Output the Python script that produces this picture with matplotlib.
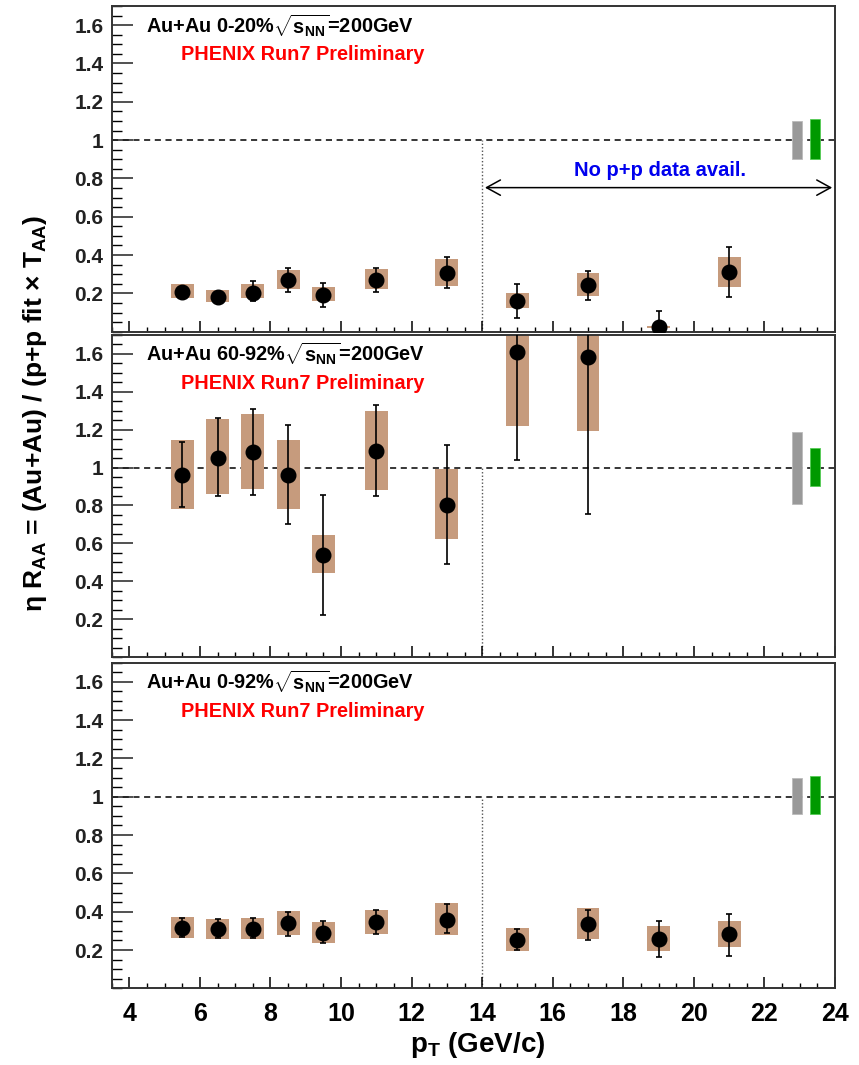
import matplotlib
matplotlib.use("Agg")
import matplotlib.pyplot as plt
from matplotlib.patches import Rectangle, FancyArrowPatch
from matplotlib.ticker import MultipleLocator, FixedLocator, FuncFormatter
import numpy as np

plt.rcParams['font.family'] = ['Liberation Sans', 'DejaVu Sans']
plt.rcParams['font.weight'] = 'bold'
plt.rcParams['mathtext.fontset'] = 'custom'
plt.rcParams['mathtext.rm'] = 'Liberation Sans:bold'
plt.rcParams['mathtext.bf'] = 'Liberation Sans:bold'
plt.rcParams['mathtext.it'] = 'Liberation Sans:bold'
plt.rcParams['mathtext.default'] = 'bf'

# ---------------- data ----------------
pt = [5.5, 6.5, 7.5, 8.5, 9.5, 11, 13, 15, 17, 19, 21]

# 0-20%
raa_c0 = [0.205, 0.179, 0.203, 0.270, 0.193, 0.270, 0.305, 0.158, 0.244, 0.025, 0.310]
stat_lo_c0 = [0.190, 0.160, 0.158, 0.205, 0.130, 0.205, 0.228, 0.074, 0.165, -0.05, 0.179]
stat_hi_c0 = [0.220, 0.196, 0.263, 0.333, 0.256, 0.333, 0.388, 0.249, 0.319, 0.109, 0.444]
sys_lo_c0 = [0.174, 0.153, 0.174, 0.223, 0.161, 0.223, 0.236, 0.126, 0.188, 0.020, 0.231]
sys_hi_c0 = [0.249, 0.218, 0.249, 0.322, 0.231, 0.327, 0.378, 0.200, 0.305, 0.030, 0.388]

# 60-92%
raa_c1 = [0.961, 1.053, 1.082, 0.961, 0.541, 1.090, 0.800, 1.608, 1.582]
stat_lo_c1 = [0.793, 0.850, 0.855, 0.704, 0.222, 0.850, 0.491, 1.041, 0.754]
stat_hi_c1 = [1.133, 1.260, 1.310, 1.225, 0.855, 1.333, 1.119, 2.100, 2.100]
sys_lo_c1 = [0.780, 0.858, 0.887, 0.780, 0.445, 0.880, 0.624, 1.222, 1.195]
sys_hi_c1 = [1.144, 1.257, 1.284, 1.144, 0.644, 1.298, 0.990, 1.994, 1.969]

# 0-92%
raa_c2 = [0.317, 0.310, 0.310, 0.340, 0.291, 0.345, 0.357, 0.252, 0.334, 0.256, 0.282]
stat_lo_c2 = [0.270, 0.262, 0.265, 0.275, 0.235, 0.283, 0.291, 0.200, 0.252, 0.164, 0.169]
stat_hi_c2 = [0.366, 0.360, 0.365, 0.400, 0.352, 0.409, 0.439, 0.310, 0.409, 0.352, 0.388]
sys_lo_c2 = [0.264, 0.258, 0.258, 0.279, 0.238, 0.285, 0.279, 0.195, 0.258, 0.195, 0.216]
sys_hi_c2 = [0.374, 0.360, 0.369, 0.404, 0.348, 0.409, 0.444, 0.313, 0.418, 0.327, 0.353]

# global uncertainties (gray: T_AA, green: normalisation)
gray_lo = [0.904, 0.810, 0.910]
gray_hi = [1.100, 1.190, 1.100]
green_lo = [0.904, 0.903, 0.910]
green_hi = [1.108, 1.106, 1.110]

labels = ['Au+Au 0-20%', 'Au+Au 60-92%', 'Au+Au 0-92%']
yticks = [0.2, 0.4, 0.6, 0.8, 1.0, 1.2, 1.4, 1.6]
xticks = [4, 6, 8, 10, 12, 14, 16, 18, 20, 22, 24]

panels = [
    (raa_c0, stat_lo_c0, stat_hi_c0, sys_lo_c0, sys_hi_c0),
    (raa_c1, stat_lo_c1, stat_hi_c1, sys_lo_c1, sys_hi_c1),
    (raa_c2, stat_lo_c2, stat_hi_c2, sys_lo_c2, sys_hi_c2),
]

# ---------------- figure ----------------
W, H = 859, 1065
fig = plt.figure(figsize=(W / 100, H / 100), dpi=100)
fig.patch.set_facecolor('white')

left = 111.7 / W
right = 835 / W
tops_px = [6, 335, 662.5]
bots_px = [331.7, 657, 988.4]

box_col = '#c69b7d'
box_w = 0.65
gbox_w = 0.28

def fmt(v, pos):
    s = ('%.1f' % v)
    return '1' if abs(v - 1) < 1e-9 else s

axes = []
for i in range(3):
    b = 1 - bots_px[i] / H
    t = 1 - tops_px[i] / H
    ax = fig.add_axes([left, b, right - left, t - b])
    axes.append(ax)
    ax.set_xlim(3.5, 24)
    ax.set_ylim(0, 1.7)
    for sp in ax.spines.values():
        sp.set_linewidth(1.4)
        sp.set_color('#333333')
    ax.yaxis.set_major_locator(FixedLocator(yticks))
    ax.yaxis.set_minor_locator(MultipleLocator(0.05))
    ax.yaxis.set_major_formatter(FuncFormatter(fmt))
    ax.xaxis.set_major_locator(FixedLocator(xticks))
    ax.xaxis.set_minor_locator(MultipleLocator(0.5))
    ax.tick_params(axis='y', which='major', direction='in', length=15, width=1.1,
                   labelsize=15, pad=6, right=False, colors='#222222')
    ax.tick_params(axis='y', which='minor', direction='in', length=7, width=1.0, right=False)
    ax.tick_params(axis='x', which='major', direction='in', length=8, width=1.1,
                   labelsize=18, pad=10, top=False)
    ax.tick_params(axis='x', which='minor', direction='in', length=3.6, width=1.0, top=False)
    if i < 2:
        ax.tick_params(axis='x', labelbottom=False)
    for lab in ax.get_xticklabels() + ax.get_yticklabels():
        lab.set_fontweight('bold')

    raa, slo, shi, ylo, yhi = panels[i]
    n = len(raa)
    x = pt[:n]
    # reference lines
    ax.axhline(1.0, color='black', lw=1.1, ls=(0, (4, 3)), zorder=1)
    ax.plot([14, 14], [0, 1.0], color='#555555', lw=1.0, ls=(0, (1, 1.5)), zorder=1)
    # systematic boxes
    for xi, lo, hi in zip(x, ylo, yhi):
        ax.add_patch(Rectangle((xi - box_w / 2, lo), box_w, hi - lo,
                               facecolor=box_col, edgecolor='none', zorder=2))
    # stat errors + points
    raa_a = np.array(raa)
    yerr = [raa_a - np.array(slo), np.array(shi) - raa_a]
    ax.errorbar(x, raa, yerr=yerr, fmt='o', color='black', ms=10.5,
                elinewidth=1.2, capsize=2.3, capthick=1.2, zorder=3)
    # global uncertainty boxes
    ax.add_patch(Rectangle((22.93 - gbox_w / 2, gray_lo[i]), gbox_w, gray_hi[i] - gray_lo[i],
                           facecolor='#999999', edgecolor='#bbbbbb', lw=0.6, zorder=4))
    ax.add_patch(Rectangle((23.43 - gbox_w / 2, green_lo[i]), gbox_w, green_hi[i] - green_lo[i],
                           facecolor='#009900', edgecolor='#55cc55', lw=0.6, zorder=4))
    # labels
    ax.text(4.47, 1.60, labels[i] + r'$\sqrt{s_{NN}}$=200GeV', fontsize=14.3,
            fontweight='bold', color='black', ha='left', va='center')
    ax.text(8.91, 1.445, 'PHENIX Run7 Preliminary', fontsize=14.3,
            fontweight='bold', color='red', ha='center', va='center')

# arrow and note in top panel
ax0 = axes[0]
arr = FancyArrowPatch((14, 0.752), (24, 0.752), arrowstyle='<->,head_length=1.0,head_width=0.55',
                      mutation_scale=10, lw=1.1, color='black', zorder=5, clip_on=False)
ax0.add_patch(arr)
ax0.text(19.03, 0.843, 'No p+p data avail.', fontsize=14.5, fontweight='bold',
         color='#0000ee', ha='center', va='center')

# axis titles
fig.text(478 / W, 1 - 1045 / H, r'p$_{T}$ (GeV/c)', fontsize=20, fontweight='bold',
         ha='center', va='center')
fig.text(35 / W, 1 - 413 / H, r'$\eta$ R$_{AA}$ = (Au+Au) / (p+p fit $\times$ T$_{AA}$)',
         rotation=90, fontsize=19, fontweight='bold', ha='center', va='center')

fig.savefig('out.png', dpi=100, facecolor='white')
